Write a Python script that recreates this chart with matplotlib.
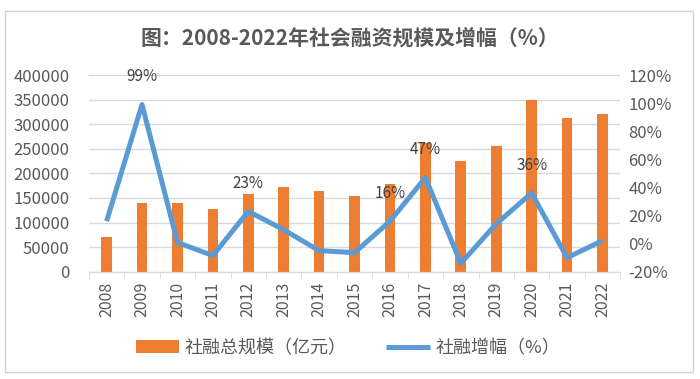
import numpy as np
import matplotlib.pyplot as plt
from matplotlib.patches import Rectangle
from matplotlib.ticker import FuncFormatter

plt.rcParams['font.family'] = ['Noto Sans CJK SC', 'DejaVu Sans']

years = ['2008', '2009', '2010', '2011', '2012', '2013', '2014', '2015',
         '2016', '2017', '2018', '2019', '2020', '2021', '2022']
scale = [69800, 139100, 140200, 128300, 157600, 173200, 164600, 154100,
         178000, 261500, 224900, 256700, 348600, 313400, 320100]
growth = [16, 99, 0.8, -8.5, 23, 9.9, -5, -6.4,
          16, 47, -14, 14.1, 36, -10, 2.1]
labelled = ['2009', '2012', '2016', '2017', '2020']

bar_color = '#ED7D31'
line_color = '#5B9BD5'
text_color = '#595959'
grid_color = '#D9D9D9'

fig = plt.figure(figsize=(7, 3.79), dpi=100)
ax = fig.add_axes([0.127, 0.283, 0.759, 0.519])
ax2 = ax.twinx()

x = np.arange(len(years))
ax.bar(x, scale, width=0.3, color=bar_color, zorder=2, label='社融总规模（亿元）')
ax2.plot(x, growth, color=line_color, lw=3.6, solid_capstyle='butt',
         label='社融增幅（%）', zorder=3)

for i, y in enumerate(years):
    if y in labelled:
        ax2.annotate(f'{growth[i]:.0f}%', (x[i], growth[i]), xytext=(0, 14),
                     textcoords='offset points', ha='center', va='bottom',
                     fontsize=11, color='#404040')

ax.set_xlim(-0.5, len(years) - 0.5)
ax.set_ylim(0, 400000)
ax.set_yticks(np.arange(0, 400001, 50000))
ax2.set_ylim(-20, 120)
ax2.set_yticks(np.arange(-20, 121, 20))
ax2.yaxis.set_major_formatter(FuncFormatter(lambda v, p: f'{v:.0f}%'))

ax.set_xticks(x)
ax.set_xticklabels(years, rotation=90)
ax.set_xticks(np.arange(-0.5, len(years), 1), minor=True)
ax.tick_params(axis='x', which='major', length=0, pad=7, labelsize=11.5, labelcolor=text_color)
ax.tick_params(axis='x', which='minor', length=5, color=grid_color)
ax.tick_params(axis='y', length=0, labelsize=12, labelcolor=text_color, pad=14)
ax2.tick_params(axis='y', length=0, labelsize=12, labelcolor=text_color, pad=6)

ax.grid(axis='y', color=grid_color, lw=1, zorder=0)
for a in (ax, ax2):
    for s in ('top', 'left', 'right'):
        a.spines[s].set_visible(False)
    a.spines['bottom'].set_color(grid_color)

fig.text(0.5, 0.9, '图：2008-2022年社会融资规模及增幅（%）', ha='center', va='center',
         fontsize=15, fontweight='bold', color=text_color)

h1, l1 = ax.get_legend_handles_labels()
h2, l2 = ax2.get_legend_handles_labels()
fig.legend(h1 + h2, l1 + l2, loc='center', bbox_to_anchor=(0.497, 0.082), ncol=2,
           frameon=False, fontsize=13, labelcolor=text_color, handlelength=2.4,
           columnspacing=2.2, handletextpad=0.3)

fig.patches.append(Rectangle((0.007, 0.018), 0.983, 0.953, transform=fig.transFigure,
                             fill=False, edgecolor='#D0D0D0', lw=1))

fig.savefig('out.png', dpi=100)
